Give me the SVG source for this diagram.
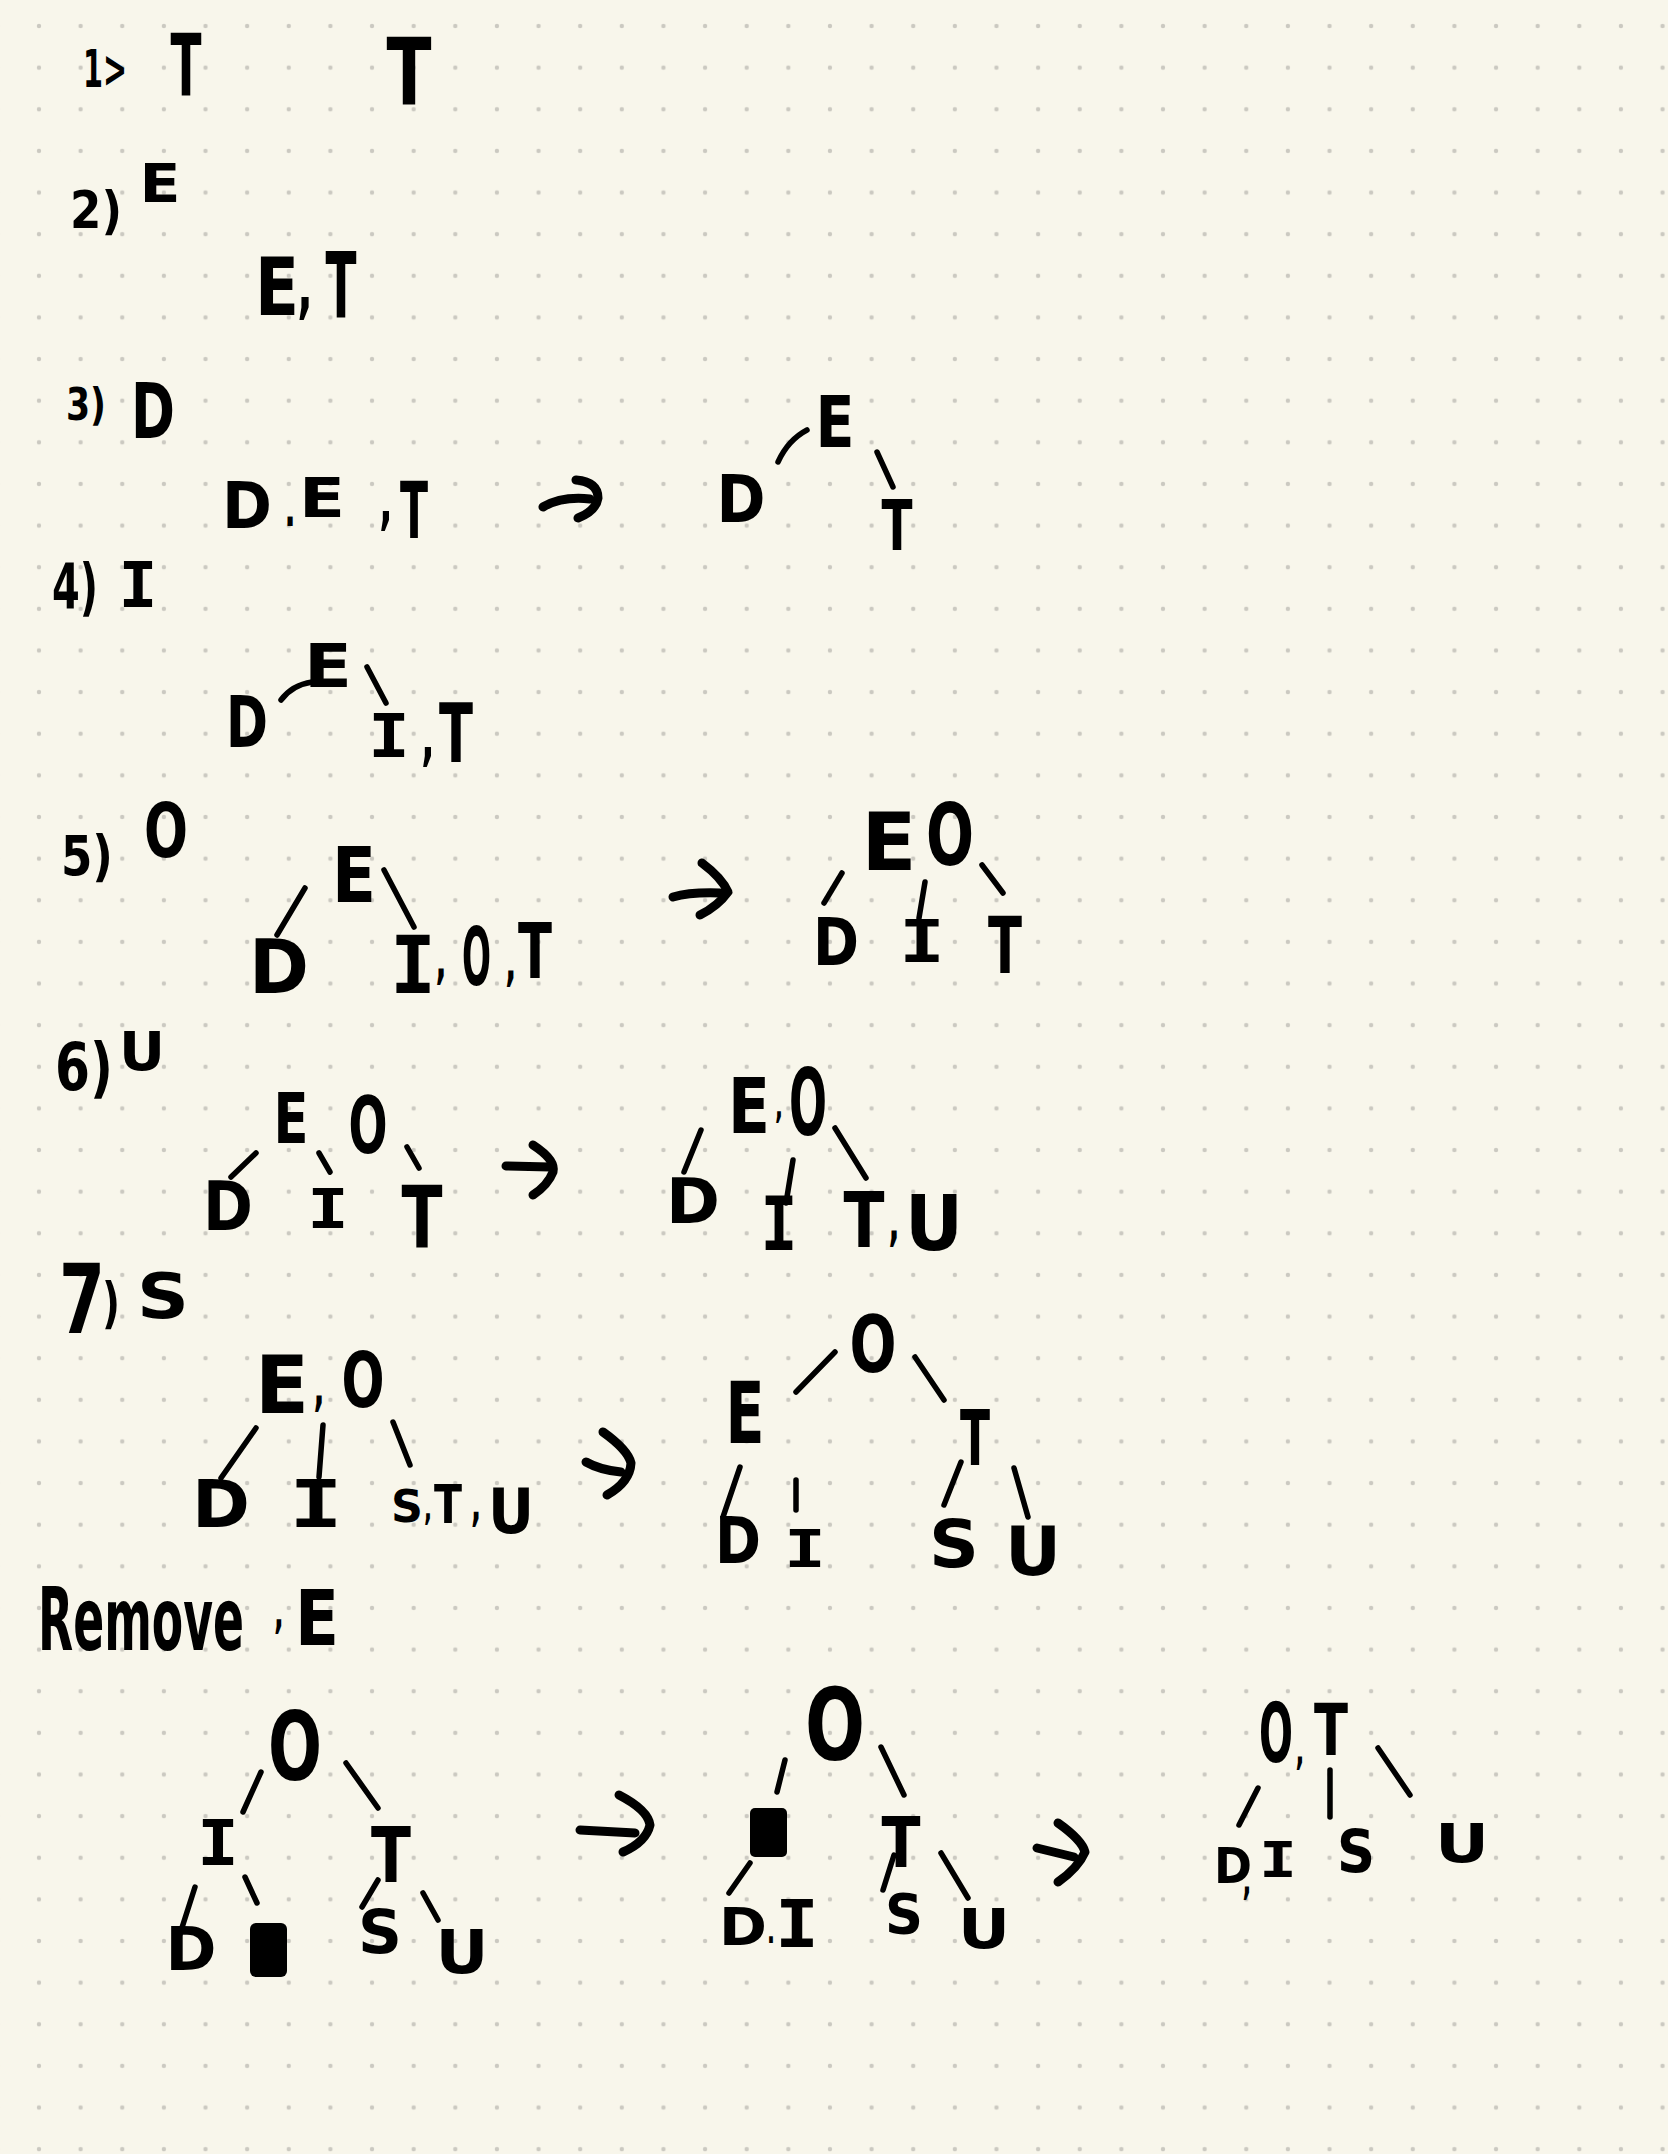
<svg xmlns="http://www.w3.org/2000/svg" width="1668" height="2154" viewBox="0 0 1668 2154">
<defs>
<pattern id="dots" patternUnits="userSpaceOnUse" x="18.2" y="5.2" width="41.63" height="41.63">
<circle cx="20.8" cy="20.8" r="2.2" fill="#cbc9c1"/>
</pattern>
<style>
.h{font-family:"Liberation Sans Narrow","DejaVu Sans Condensed","Liberation Sans",sans-serif;font-weight:bold;fill:#000;text-anchor:middle}
.i{font-family:"DejaVu Sans Mono","Liberation Mono",monospace}
.e{stroke:#000;stroke-width:5.5;stroke-linecap:round;fill:none}
.a{stroke:#000;stroke-width:9;stroke-linecap:round;stroke-linejoin:round;fill:none}
</style>
</defs>
<rect width="1668" height="2154" fill="#f8f6eb"/>
<rect width="1668" height="2154" fill="url(#dots)"/>

<g id="connectors">
<path class="e" d="M778,462 Q788,440 807,430"/>
<path class="e" d="M877,452 L893,487"/>
<path class="a" d="M543,507 Q562,496 590,499"/>
<path class="a" d="M576,480 Q598,482 598,498 Q596,511 578,518"/>
<path class="e" d="M281,700 Q292,685 312,682"/>
<path class="e" d="M367,667 L386,703"/>
<path class="e" d="M305,888 L277,935"/>
<path class="e" d="M384,870 L414,927"/>
<path class="a" d="M673,897 Q690,892 720,893"/>
<path class="a" d="M702,863 Q722,878 728,892 Q718,906 700,915"/>
<path class="e" d="M842,873 L824,903"/>
<path class="e" d="M925,882 L919,918"/>
<path class="e" d="M982,865 L1003,893"/>
<path class="e" d="M256,1153 L231,1177"/>
<path class="e" d="M319,1153 L330,1172"/>
<path class="e" d="M407,1147 L419,1168"/>
<path class="a" d="M506,1166 L550,1167"/>
<path class="a" d="M533,1145 Q556,1160 553,1172 Q548,1185 533,1195"/>
<path class="e" d="M701,1130 L684,1172"/>
<path class="e" d="M793,1160 L786,1203"/>
<path class="e" d="M835,1128 L866,1178"/>
<path class="e" d="M256,1428 L221,1478"/>
<path class="e" d="M323,1425 L319,1477"/>
<path class="e" d="M393,1422 L410,1465"/>
<path class="a" d="M586,1462 Q600,1470 621,1472"/>
<path class="a" d="M603,1432 Q628,1450 631,1463 Q630,1482 607,1495"/>
<path class="e" d="M835,1352 L796,1392"/>
<path class="e" d="M915,1357 L944,1400"/>
<path class="e" d="M740,1467 L723,1517"/>
<path class="e" d="M796,1480 L796,1510"/>
<path class="e" d="M961,1462 L944,1505"/>
<path class="e" d="M1014,1468 L1028,1517"/>
<path class="e" d="M261,1772 L243,1812"/>
<path class="e" d="M346,1763 L378,1808"/>
<path class="e" d="M195,1887 L179,1937"/>
<path class="e" d="M245,1877 L257,1903"/>
<path class="e" d="M378,1880 L362,1907"/>
<path class="e" d="M423,1893 L438,1920"/>
<path class="a" d="M580,1830 L635,1833"/>
<path class="a" d="M619,1795 Q648,1810 650,1825 Q646,1842 623,1852"/>
<path class="e" d="M785,1760 L777,1792"/>
<path class="e" d="M881,1747 L904,1795"/>
<path class="e" d="M750,1863 L729,1893"/>
<path class="e" d="M894,1855 L883,1890"/>
<path class="e" d="M941,1853 L968,1898"/>
<path class="a" d="M1037,1848 L1074,1857"/>
<path class="a" d="M1058,1823 Q1082,1840 1085,1852 Q1078,1868 1058,1882"/>
<path class="e" d="M1258,1788 L1239,1825"/>
<path class="e" d="M1330,1770 L1330,1817"/>
<path class="e" d="M1378,1748 L1410,1795"/>
</g>

<g id="r1-X"><rect x="250" y="1923" width="37" height="54" rx="6" fill="#000"/></g>
<g id="r2-X"><rect x="750" y="1808" width="37" height="49" rx="5" fill="#000"/></g>

<g id="nodes" transform="scale(0.65,1)">
<g id="s1-label"><text class="h" x="161.5" y="87" font-size="52" textLength="67.7" lengthAdjust="spacingAndGlyphs">1&gt;</text></g>
<g id="s1-t1"><text class="h" x="286.2" y="95" font-size="86" textLength="47.7" lengthAdjust="spacingAndGlyphs">T</text></g>
<g id="s1-t2"><text class="h" x="629.2" y="105" font-size="93" textLength="69.2" lengthAdjust="spacingAndGlyphs">T</text></g>

<g id="s2-label"><text class="h"><tspan x="147.7" y="228" font-size="52" textLength="80" lengthAdjust="spacingAndGlyphs">2)</tspan><tspan x="246.2" y="202" font-size="54" textLength="63.1" lengthAdjust="spacingAndGlyphs">E</tspan></text></g>
<g id="s2-ET"><text class="h" font-size="80"><tspan x="426.2" y="315" textLength="67.7" lengthAdjust="spacingAndGlyphs">E</tspan><tspan x="469.2" y="310" font-size="70">,</tspan><tspan x="524.6" y="317" font-size="90" textLength="47.7" lengthAdjust="spacingAndGlyphs">T</tspan></text></g>

<g id="s3-label"><text class="h"><tspan x="132.3" y="420" font-size="44" textLength="61.5" lengthAdjust="spacingAndGlyphs">3)</tspan><tspan x="235.4" y="438" font-size="76" textLength="67.7" lengthAdjust="spacingAndGlyphs">D</tspan></text></g>
<g id="s3-DET"><text class="h"><tspan x="380" y="528" font-size="64" textLength="76.9" lengthAdjust="spacingAndGlyphs">D</tspan><tspan x="446.2" y="526" font-size="50">.</tspan><tspan x="495.4" y="517" font-size="56" textLength="70.8" lengthAdjust="spacingAndGlyphs">E</tspan><tspan x="593.8" y="522" font-size="60">,</tspan><tspan x="636.9" y="538" font-size="78" textLength="43.1" lengthAdjust="spacingAndGlyphs">T</tspan></text></g>
<g id="s3-D"><text class="h" x="1140" y="522" font-size="65" textLength="75.4" lengthAdjust="spacingAndGlyphs">D</text></g>
<g id="s3-E"><text class="h" x="1284.6" y="447" font-size="72" textLength="60" lengthAdjust="spacingAndGlyphs">E</text></g>
<g id="s3-T"><text class="h" x="1380" y="550" font-size="70" textLength="47.7" lengthAdjust="spacingAndGlyphs">T</text></g>

<g id="s4-label"><text class="h"><tspan x="115.4" y="608" font-size="62" textLength="70.8" lengthAdjust="spacingAndGlyphs">4)</tspan><tspan class="i" x="212.3" y="607" font-size="62" textLength="60" lengthAdjust="spacingAndGlyphs">I</tspan></text></g>
<g id="s4-D"><text class="h" x="380" y="747" font-size="72" textLength="64.6" lengthAdjust="spacingAndGlyphs">D</text></g>
<g id="s4-E"><text class="h" x="504.6" y="687" font-size="61" textLength="73.8" lengthAdjust="spacingAndGlyphs">E</text></g>
<g id="s4-IT"><text class="h"><tspan class="i" x="598.5" y="757" font-size="61" textLength="64.6" lengthAdjust="spacingAndGlyphs">I</tspan><tspan x="658.5" y="758" font-size="60">,</tspan><tspan x="701.5" y="762" font-size="82" textLength="52.3" lengthAdjust="spacingAndGlyphs">T</tspan></text></g>

<g id="s5-label"><text class="h"><tspan x="133.8" y="875" font-size="55" textLength="80" lengthAdjust="spacingAndGlyphs">5)</tspan><tspan x="255.4" y="857" font-size="75" textLength="67.7" lengthAdjust="spacingAndGlyphs">O</tspan></text></g>
<g id="s5-E"><text class="h" x="544.6" y="902" font-size="76" textLength="67.7" lengthAdjust="spacingAndGlyphs">E</text></g>
<g id="s5-D"><text class="h" x="429.2" y="993" font-size="74" textLength="92.3" lengthAdjust="spacingAndGlyphs">D</text></g>
<g id="s5-IOT"><text class="h"><tspan class="i" x="635.4" y="993" font-size="80" textLength="70.8" lengthAdjust="spacingAndGlyphs">I</tspan><tspan x="678.5" y="978" font-size="50">,</tspan><tspan x="733" y="985" font-size="80" textLength="44.6" lengthAdjust="spacingAndGlyphs">O</tspan><tspan x="786" y="980" font-size="50">,</tspan><tspan x="823.1" y="978" font-size="77" textLength="52.3" lengthAdjust="spacingAndGlyphs">T</tspan></text></g>
<g id="s5-EO"><text class="h"><tspan x="1367.7" y="870" font-size="80" textLength="84.6" lengthAdjust="spacingAndGlyphs">E</tspan><tspan x="1461.5" y="865" font-size="86" textLength="73.8" lengthAdjust="spacingAndGlyphs">O</tspan></text></g>
<g id="s5-D2"><text class="h" x="1286.2" y="965" font-size="65" textLength="70.8" lengthAdjust="spacingAndGlyphs">D</text></g>
<g id="s5-I2"><text class="h"><tspan class="i" x="1418.5" y="962" font-size="58" textLength="70.8" lengthAdjust="spacingAndGlyphs">I</tspan></text></g>
<g id="s5-T2"><text class="h" x="1546.2" y="973" font-size="78" textLength="52.3" lengthAdjust="spacingAndGlyphs">T</text></g>

<g id="s6-label"><text class="h"><tspan x="129.2" y="1090" font-size="65" textLength="89.2" lengthAdjust="spacingAndGlyphs">6)</tspan><tspan x="218.5" y="1070" font-size="53" textLength="70.8" lengthAdjust="spacingAndGlyphs">U</tspan></text></g>
<g id="s6-EO"><text class="h"><tspan x="447.7" y="1143" font-size="70" textLength="53.8" lengthAdjust="spacingAndGlyphs">E</tspan><tspan x="566.2" y="1153" font-size="78" textLength="60" lengthAdjust="spacingAndGlyphs">O</tspan></text></g>
<g id="s6-D"><text class="h" x="350.8" y="1230" font-size="67" textLength="76.9" lengthAdjust="spacingAndGlyphs">D</text></g>
<g id="s6-I"><text class="h"><tspan class="i" x="504.6" y="1228" font-size="56" textLength="64.6" lengthAdjust="spacingAndGlyphs">I</tspan></text></g>
<g id="s6-T"><text class="h" x="649.2" y="1247" font-size="86" textLength="63.1" lengthAdjust="spacingAndGlyphs">T</text></g>
<g id="s6-EO2"><text class="h"><tspan x="1152.3" y="1133" font-size="76" textLength="64.6" lengthAdjust="spacingAndGlyphs">E</tspan><tspan x="1198.5" y="1118" font-size="36">,</tspan><tspan x="1243.1" y="1135" font-size="93" textLength="58.5" lengthAdjust="spacingAndGlyphs">O</tspan></text></g>
<g id="s6-D2"><text class="h" x="1066.2" y="1223" font-size="63" textLength="83.1" lengthAdjust="spacingAndGlyphs">D</text></g>
<g id="s6-I2"><text class="h"><tspan class="i" x="1198.5" y="1250" font-size="74" textLength="56.9" lengthAdjust="spacingAndGlyphs">I</tspan></text></g>
<g id="s6-TU"><text class="h"><tspan x="1329.2" y="1247" font-size="76" textLength="63.1" lengthAdjust="spacingAndGlyphs">T</tspan><tspan x="1375.4" y="1240" font-size="50">,</tspan><tspan x="1436.9" y="1250" font-size="76" textLength="89.2" lengthAdjust="spacingAndGlyphs">U</tspan></text></g>

<g id="s7-label"><text class="h"><tspan x="126.2" y="1333" font-size="97" textLength="70.8" lengthAdjust="spacingAndGlyphs">7</tspan><tspan x="170.8" y="1322" font-size="55" textLength="27.7" lengthAdjust="spacingAndGlyphs">)</tspan><tspan x="250.8" y="1318" font-size="63" textLength="80" lengthAdjust="spacingAndGlyphs">S</tspan></text></g>
<g id="s7-EO"><text class="h"><tspan x="433.8" y="1413" font-size="80" textLength="83.1" lengthAdjust="spacingAndGlyphs">E</tspan><tspan x="490.8" y="1405" font-size="50">,</tspan><tspan x="558.5" y="1407" font-size="76" textLength="66.2" lengthAdjust="spacingAndGlyphs">O</tspan></text></g>
<g id="s7-D"><text class="h" x="340" y="1527" font-size="65" textLength="89.2" lengthAdjust="spacingAndGlyphs">D</text></g>
<g id="s7-I"><text class="h"><tspan class="i" x="486.2" y="1527" font-size="65" textLength="83.1" lengthAdjust="spacingAndGlyphs">I</tspan></text></g>
<g id="s7-STU"><text class="h"><tspan x="626.2" y="1522" font-size="45" textLength="49.2" lengthAdjust="spacingAndGlyphs">S</tspan><tspan x="658.5" y="1520" font-size="36">,</tspan><tspan x="689.2" y="1523" font-size="53" textLength="43.1" lengthAdjust="spacingAndGlyphs">T</tspan><tspan x="732.3" y="1520" font-size="46">,</tspan><tspan x="786.2" y="1533" font-size="63" textLength="70.8" lengthAdjust="spacingAndGlyphs">U</tspan></text></g>
<g id="s7-O"><text class="h" x="1343.1" y="1372" font-size="79" textLength="72.3" lengthAdjust="spacingAndGlyphs">O</text></g>
<g id="s7-E"><text class="h" x="1146.2" y="1443" font-size="85" textLength="60" lengthAdjust="spacingAndGlyphs">E</text></g>
<g id="s7-T"><text class="h" x="1500" y="1465" font-size="76" textLength="46.2" lengthAdjust="spacingAndGlyphs">T</text></g>
<g id="s7-D2"><text class="h" x="1135.4" y="1563" font-size="64" textLength="70.8" lengthAdjust="spacingAndGlyphs">D</text></g>
<g id="s7-I2"><text class="h"><tspan class="i" x="1238.5" y="1567" font-size="52" textLength="64.6" lengthAdjust="spacingAndGlyphs">I</tspan></text></g>
<g id="s7-S"><text class="h" x="1467.7" y="1567" font-size="65" textLength="76.9" lengthAdjust="spacingAndGlyphs">S</text></g>
<g id="s7-U"><text class="h" x="1589.2" y="1575" font-size="67" textLength="86.2" lengthAdjust="spacingAndGlyphs">U</text></g>

<g id="rm-label"><text class="h"><tspan x="216.9" y="1650" font-size="88" textLength="316.9" lengthAdjust="spacingAndGlyphs">Remove</tspan><tspan x="429.2" y="1628" font-size="44">,</tspan><tspan x="487.7" y="1645" font-size="76" textLength="67.7" lengthAdjust="spacingAndGlyphs">E</tspan></text></g>
<g id="r1-O"><text class="h" x="453.8" y="1780" font-size="94" textLength="83.1" lengthAdjust="spacingAndGlyphs">O</text></g>
<g id="r1-I"><text class="h"><tspan class="i" x="335.4" y="1865" font-size="62" textLength="64.6" lengthAdjust="spacingAndGlyphs">I</tspan></text></g>
<g id="r1-T"><text class="h" x="601.5" y="1882" font-size="76" textLength="61.5" lengthAdjust="spacingAndGlyphs">T</text></g>
<g id="r1-D"><text class="h" x="293.8" y="1970" font-size="60" textLength="78.5" lengthAdjust="spacingAndGlyphs">D</text></g>
<g id="r1-S"><text class="h" x="584.6" y="1953" font-size="60" textLength="67.7" lengthAdjust="spacingAndGlyphs">S</text></g>
<g id="r1-U"><text class="h" x="710.8" y="1973" font-size="60" textLength="81.5" lengthAdjust="spacingAndGlyphs">U</text></g>

<g id="r2-O"><text class="h" x="1284.6" y="1760" font-size="100" textLength="92.3" lengthAdjust="spacingAndGlyphs">O</text></g>
<g id="r2-T"><text class="h" x="1386.2" y="1867" font-size="70" textLength="60" lengthAdjust="spacingAndGlyphs">T</text></g>
<g id="r2-DI"><text class="h"><tspan x="1143.1" y="1945" font-size="52" textLength="73.8" lengthAdjust="spacingAndGlyphs">D</tspan><tspan x="1186.2" y="1943" font-size="36">.</tspan><tspan class="i" x="1226.2" y="1947" font-size="65" textLength="67.7" lengthAdjust="spacingAndGlyphs">I</tspan></text></g>
<g id="r2-S"><text class="h" x="1390.8" y="1933" font-size="56" textLength="58.5" lengthAdjust="spacingAndGlyphs">S</text></g>
<g id="r2-U"><text class="h" x="1513.8" y="1948" font-size="56" textLength="80" lengthAdjust="spacingAndGlyphs">U</text></g>

<g id="r3-OT"><text class="h"><tspan x="1963.1" y="1762" font-size="82" textLength="52.3" lengthAdjust="spacingAndGlyphs">O</tspan><tspan x="2000" y="1764" font-size="40">,</tspan><tspan x="2047.7" y="1755" font-size="72" textLength="52.3" lengthAdjust="spacingAndGlyphs">T</tspan></text></g>
<g id="r3-DI"><text class="h"><tspan x="1896.9" y="1883" font-size="49" textLength="58.5" lengthAdjust="spacingAndGlyphs">D</tspan><tspan x="1918.5" y="1894" font-size="40">,</tspan><tspan class="i" x="1966.2" y="1877" font-size="49" textLength="58.5" lengthAdjust="spacingAndGlyphs">I</tspan></text></g>
<g id="r3-S"><text class="h" x="2086.2" y="1872" font-size="58" textLength="58.5" lengthAdjust="spacingAndGlyphs">S</text></g>
<g id="r3-U"><text class="h" x="2249.2" y="1862" font-size="54" textLength="83.1" lengthAdjust="spacingAndGlyphs">U</text></g>
</g>
</svg>
